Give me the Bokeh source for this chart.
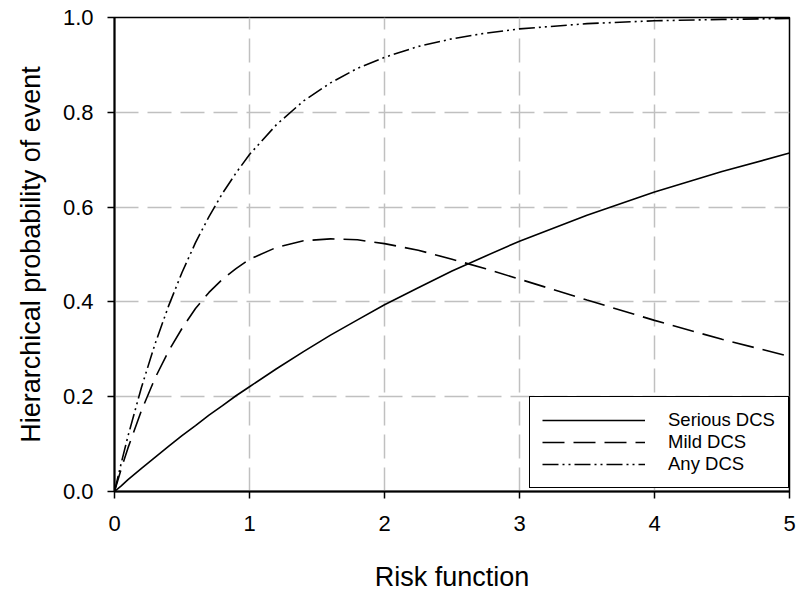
from bokeh.plotting import figure
from bokeh.models import FixedTicker, PrintfTickFormatter, Legend, LegendItem, Range1d
from bokeh.embed import file_html
from bokeh.resources import INLINE

# Values
risk = [0, 0.05, 0.1, 0.2, 0.3, 0.4, 0.5, 0.6, 0.7, 0.8, 0.9, 1.0, 1.2, 1.4, 1.6,
        1.8, 2.0, 2.25, 2.5, 2.75, 3.0, 3.5, 4.0, 4.5, 5.0]
serious_dcs = [0, 0.012, 0.025, 0.049, 0.072, 0.095, 0.118, 0.139, 0.161, 0.181,
               0.202, 0.221, 0.259, 0.295, 0.330, 0.362, 0.394, 0.430, 0.465,
               0.497, 0.528, 0.583, 0.632, 0.675, 0.714]
mild_dcs = [0, 0.048, 0.092, 0.171, 0.239, 0.296, 0.344, 0.386, 0.420, 0.448,
            0.470, 0.490, 0.515, 0.529, 0.533, 0.531, 0.523, 0.509, 0.490,
            0.470, 0.448, 0.404, 0.361, 0.321, 0.285]
any_dcs = [0, 0.060, 0.117, 0.220, 0.311, 0.391, 0.462, 0.525, 0.580, 0.629,
           0.672, 0.711, 0.774, 0.824, 0.862, 0.893, 0.916, 0.939, 0.955,
           0.967, 0.976, 0.987, 0.993, 0.996, 0.998]
x_ticks = [0, 1, 2, 3, 4, 5]
y_ticks = [0.0, 0.2, 0.4, 0.6, 0.8, 1.0]
labels = ["Serious DCS", "Mild DCS", "Any DCS"]

FONT = "Liberation Sans"

p = figure(width=796, height=592, output_backend="svg", toolbar_location=None,
           x_range=Range1d(0, 5), y_range=Range1d(0, 1),
           min_border_left=114, min_border_right=7, min_border_top=17,
           min_border_bottom=101, frame_width=675, frame_height=474)

p.outline_line_color = "black"
p.outline_line_width = 1.5
p.background_fill_color = "white"
p.border_fill_color = "white"

for ax in (p.xaxis[0], p.yaxis[0]):
    ax.axis_line_color = "black"
    ax.axis_line_width = 2
    ax.major_tick_line_color = "black"
    ax.major_tick_line_width = 1.5
    ax.major_tick_out = 7
    ax.major_tick_in = 0
    ax.minor_tick_line_color = None
    ax.major_label_text_font = FONT
    ax.major_label_text_font_size = "22px"
    ax.major_label_text_color = "black"
    ax.axis_label_text_font = FONT
    ax.axis_label_text_font_size = "27px"
    ax.axis_label_text_font_style = "normal"
    ax.axis_label_text_color = "black"

p.xaxis[0].ticker = FixedTicker(ticks=x_ticks)
p.yaxis[0].ticker = FixedTicker(ticks=y_ticks)
p.yaxis[0].formatter = PrintfTickFormatter(format="%.1f")
p.xaxis[0].axis_label = "Risk function"
p.yaxis[0].axis_label = "Hierarchical probability of event"
p.xaxis[0].major_label_standoff = 17
p.yaxis[0].major_label_standoff = 14
p.xaxis[0].axis_label_standoff = 28
p.yaxis[0].axis_label_standoff = 14

for g in (p.xgrid[0], p.ygrid[0]):
    g.grid_line_color = "#c0c0c0"
    g.grid_line_width = 1.5
    g.grid_line_dash = "24 9"
p.xgrid[0].ticker = FixedTicker(ticks=[1, 2, 3, 4])
p.ygrid[0].ticker = FixedTicker(ticks=[0.2, 0.4, 0.6, 0.8])

r1 = p.line(risk, serious_dcs, line_color="black", line_width=1.6)
r2 = p.line(risk, mild_dcs, line_color="black", line_width=1.6, line_dash="22 9")
r3 = p.line(risk, any_dcs, line_color="black", line_width=1.6, line_dash="16 4 2 4 2 4")

legend = Legend(items=[LegendItem(label=labels[0], renderers=[r1]),
                       LegendItem(label=labels[1], renderers=[r2]),
                       LegendItem(label=labels[2], renderers=[r3])],
                location=(415, 3), orientation="vertical",
                glyph_width=103, glyph_height=20, label_height=20,
                label_width=108,
                label_standoff=23, spacing=0, padding=12, margin=0,
                label_text_font=FONT, label_text_font_size="18.5px",
                label_text_color="black",
                border_line_color="black", border_line_width=1.5,
                border_line_alpha=1.0, background_fill_color="white",
                background_fill_alpha=1.0)
p.add_layout(legend, "center")

open("out.html", "w").write(file_html(p, INLINE))
